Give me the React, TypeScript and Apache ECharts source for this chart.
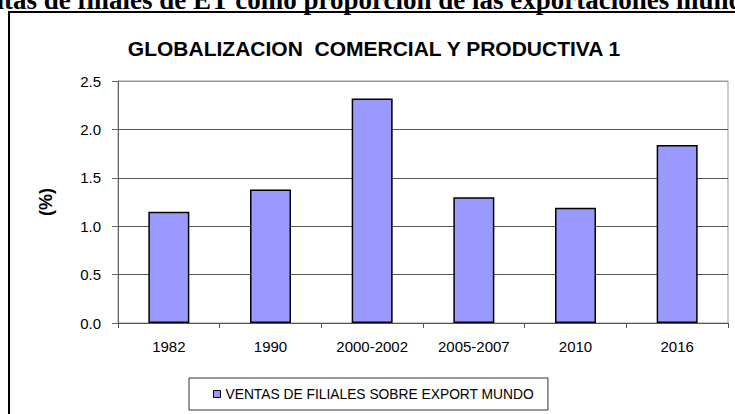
import React, { useEffect, useRef } from "react";
import * as echarts from "echarts";

const categories = ["1982", "1990", "2000-2002", "2005-2007", "2010", "2016"];
const ventasFiliales = [1.15, 1.38, 2.32, 1.3, 1.19, 1.84];
const seriesName = "VENTAS DE FILIALES SOBRE EXPORT MUNDO";
const chartTitle = "GLOBALIZACION  COMERCIAL Y PRODUCTIVA 1";
const pageHeading = "Ventas de filiales de ET como proporción de las exportaciones mundiales";

export default function App() {
  const ref = useRef<HTMLDivElement>(null);
  useEffect(() => {
    if (!ref.current) return;
    const chart = echarts.init(ref.current, null, { renderer: "svg" });
    const sans = "Liberation Sans, Arial, sans-serif";
    chart.setOption({
      animation: false,
      backgroundColor: "#ffffff",
      title: {
        text: chartTitle,
        left: 369,
        textAlign: "center",
        top: 33,
        textStyle: { fontFamily: sans, fontSize: 21, fontWeight: "bold", color: "#000" },
      },
      graphic: [
        {
          type: "text",
          left: -40,
          top: -14,
          style: {
            text: pageHeading,
            fontFamily: "Liberation Serif, Times New Roman, serif",
            fontWeight: "bold",
            fontSize: 27,
            fill: "#000",
          },
        },
        {
          type: "rect",
          shape: { x: 9, y: 12, width: 800, height: 500 },
          style: { fill: "none", stroke: "#000", lineWidth: 2 },
          z: 10,
        },
      ],
      grid: {
        left: 118,
        right: 7,
        top: 81,
        bottom: 91,
        show: true,
        borderColor: "#999",
        borderWidth: 1,
        containLabel: false,
      },
      legend: {
        data: [seriesName],
        left: 189,
        top: 378,
        padding: [9, 14, 9, 24],
        borderColor: "#333",
        borderWidth: 1,
        itemWidth: 7,
        itemHeight: 7,
        icon: "rect",
        textStyle: { fontFamily: sans, fontSize: 13.8, color: "#000" },
        itemStyle: { borderColor: "#000", borderWidth: 1 },
      },
      xAxis: {
        type: "category",
        data: categories,
        axisLine: { lineStyle: { color: "#555", width: 1 } },
        axisTick: { show: true, length: 5, lineStyle: { color: "#555" } },
        axisLabel: { fontFamily: sans, fontSize: 15, color: "#000", margin: 16 },
      },
      yAxis: {
        type: "value",
        min: 0,
        max: 2.5,
        interval: 0.5,
        name: "(%)",
        nameLocation: "middle",
        nameRotate: 90,
        nameGap: 63,
        nameTextStyle: { fontFamily: sans, fontSize: 18, fontWeight: "bold", color: "#000" },
        axisLine: { show: true, lineStyle: { color: "#666", width: 1 } },
        axisTick: { show: true, length: 6, lineStyle: { color: "#666" } },
        axisLabel: {
          fontFamily: sans,
          fontSize: 15,
          color: "#000",
          margin: 17,
          formatter: (v: number) => v.toFixed(1),
        },
        splitLine: {
          show: true,
          lineStyle: { color: ["#555", "#555", "#555", "#555", "#555", "#999"], width: 1 },
        },
      },
      series: [
        {
          name: seriesName,
          type: "bar",
          data: ventasFiliales,
          barWidth: 41,
          itemStyle: { color: "#9999FF", borderColor: "#000", borderWidth: 1.5 },
        },
      ],
    });
    return () => chart.dispose();
  }, []);
  return (
    <div
      ref={ref}
      style={{ position: "fixed", left: 0, top: 0, width: 735, height: 414 }}
    />
  );
}
